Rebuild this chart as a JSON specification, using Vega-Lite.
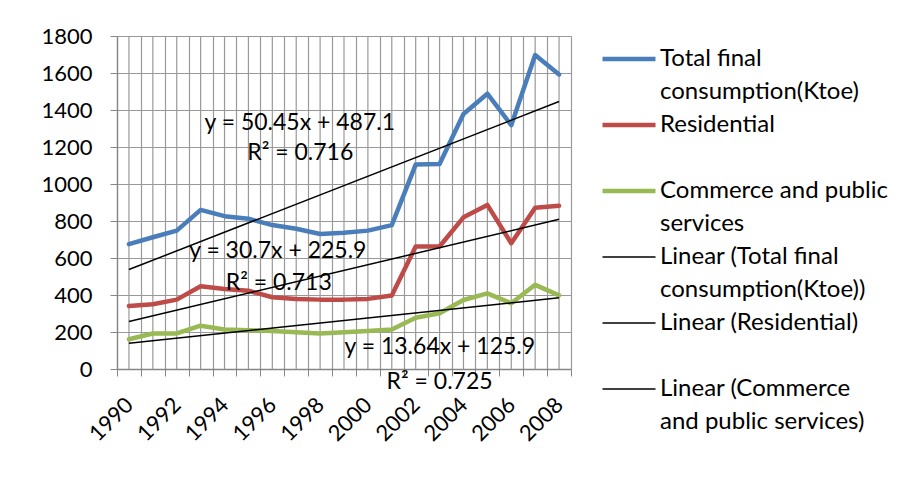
{
  "$schema": "https://vega.github.io/schema/vega-lite/v6.json",
  "width": 454,
  "height": 333,
  "autosize": {"type": "none"},
  "padding": {"left": 117, "top": 36, "right": 337, "bottom": 112},
  "background": "white",
  "config": {
    "font": "Lato",
    "view": {"stroke": null},
    "text": {"font": "Lato"}
  },
  "datasets": {
    "consumption": [
      {"year": 1990, "series": "Total final consumption(Ktoe)", "value": 675},
      {"year": 1991, "series": "Total final consumption(Ktoe)", "value": 712},
      {"year": 1992, "series": "Total final consumption(Ktoe)", "value": 748},
      {"year": 1993, "series": "Total final consumption(Ktoe)", "value": 860},
      {"year": 1994, "series": "Total final consumption(Ktoe)", "value": 826},
      {"year": 1995, "series": "Total final consumption(Ktoe)", "value": 812},
      {"year": 1996, "series": "Total final consumption(Ktoe)", "value": 778},
      {"year": 1997, "series": "Total final consumption(Ktoe)", "value": 758},
      {"year": 1998, "series": "Total final consumption(Ktoe)", "value": 730},
      {"year": 1999, "series": "Total final consumption(Ktoe)", "value": 736},
      {"year": 2000, "series": "Total final consumption(Ktoe)", "value": 748},
      {"year": 2001, "series": "Total final consumption(Ktoe)", "value": 778},
      {"year": 2002, "series": "Total final consumption(Ktoe)", "value": 1105},
      {"year": 2003, "series": "Total final consumption(Ktoe)", "value": 1108},
      {"year": 2004, "series": "Total final consumption(Ktoe)", "value": 1378},
      {"year": 2005, "series": "Total final consumption(Ktoe)", "value": 1488},
      {"year": 2006, "series": "Total final consumption(Ktoe)", "value": 1318},
      {"year": 2007, "series": "Total final consumption(Ktoe)", "value": 1697},
      {"year": 2008, "series": "Total final consumption(Ktoe)", "value": 1592},
      {"year": 1990, "series": "Residential", "value": 340},
      {"year": 1991, "series": "Residential", "value": 350},
      {"year": 1992, "series": "Residential", "value": 375},
      {"year": 1993, "series": "Residential", "value": 447},
      {"year": 1994, "series": "Residential", "value": 432},
      {"year": 1995, "series": "Residential", "value": 423},
      {"year": 1996, "series": "Residential", "value": 388},
      {"year": 1997, "series": "Residential", "value": 379},
      {"year": 1998, "series": "Residential", "value": 375},
      {"year": 1999, "series": "Residential", "value": 375},
      {"year": 2000, "series": "Residential", "value": 379},
      {"year": 2001, "series": "Residential", "value": 397},
      {"year": 2002, "series": "Residential", "value": 662},
      {"year": 2003, "series": "Residential", "value": 662},
      {"year": 2004, "series": "Residential", "value": 820},
      {"year": 2005, "series": "Residential", "value": 887},
      {"year": 2006, "series": "Residential", "value": 680},
      {"year": 2007, "series": "Residential", "value": 872},
      {"year": 2008, "series": "Residential", "value": 882},
      {"year": 1990, "series": "Commerce and public services", "value": 161},
      {"year": 1991, "series": "Commerce and public services", "value": 192},
      {"year": 1992, "series": "Commerce and public services", "value": 192},
      {"year": 1993, "series": "Commerce and public services", "value": 234},
      {"year": 1994, "series": "Commerce and public services", "value": 214},
      {"year": 1995, "series": "Commerce and public services", "value": 210},
      {"year": 1996, "series": "Commerce and public services", "value": 205},
      {"year": 1997, "series": "Commerce and public services", "value": 198},
      {"year": 1998, "series": "Commerce and public services", "value": 192},
      {"year": 1999, "series": "Commerce and public services", "value": 198},
      {"year": 2000, "series": "Commerce and public services", "value": 205},
      {"year": 2001, "series": "Commerce and public services", "value": 214},
      {"year": 2002, "series": "Commerce and public services", "value": 277},
      {"year": 2003, "series": "Commerce and public services", "value": 301},
      {"year": 2004, "series": "Commerce and public services", "value": 373},
      {"year": 2005, "series": "Commerce and public services", "value": 409},
      {"year": 2006, "series": "Commerce and public services", "value": 355},
      {"year": 2007, "series": "Commerce and public services", "value": 455},
      {"year": 2008, "series": "Commerce and public services", "value": 398}
    ],
    "trend": [
      {"year": 1990, "series": "Linear (Total final consumption(Ktoe))", "value": 537.55},
      {"year": 2008, "series": "Linear (Total final consumption(Ktoe))", "value": 1445.65},
      {"year": 1990, "series": "Linear (Residential)", "value": 256.6},
      {"year": 2008, "series": "Linear (Residential)", "value": 809.2},
      {"year": 1990, "series": "Linear (Commerce and public services)", "value": 139.54},
      {"year": 2008, "series": "Linear (Commerce and public services)", "value": 385.06}
    ],
    "equations": [
      {"year": 1997.15, "value": 1330, "text": "y = 50.45x + 487.1"},
      {"year": 1997.17, "value": 1165, "text": "R² = 0.716"},
      {"year": 1996.23, "value": 638, "text": "y = 30.7x + 225.9"},
      {"year": 1996.27, "value": 465, "text": "R² = 0.713"},
      {"year": 2003.01, "value": 119, "text": "y = 13.64x + 125.9"},
      {"year": 2003.0, "value": -70, "text": "R² = 0.725"}
    ]
  },
  "encoding": {
    "x": {
      "field": "year",
      "type": "quantitative",
      "scale": {"domain": [1989.5, 2008.5], "nice": false, "zero": false},
      "axis": {
        "title": null,
        "values": [1989.5, 1990.5, 1991.5, 1992.5, 1993.5, 1994.5, 1995.5, 1996.5, 1997.5, 1998.5, 1999.5, 2000.5, 2001.5, 2002.5, 2003.5, 2004.5, 2005.5, 2006.5, 2007.5, 2008.5],
        "labelExpr": "(datum.value + 0.5) % 2 == 0 ? '' + (datum.value + 0.5) : ''",
        "labelOffset": 12,
        "labelOverlap": false,
        "labelFlush": false,
        "labelBound": false,
        "labelAngle": -45,
        "labelAlign": "right",
        "labelBaseline": "middle",
        "labelPadding": 25,
        "labelFontSize": 22,
        "labelColor": "#000000",
        "grid": true,
        "gridColor": "#999999",
        "gridWidth": 1.2,
        "domainColor": "#868686",
        "domainWidth": 1.3,
        "tickColor": "#868686",
        "tickSize": 7
      }
    },
    "y": {
      "field": "value",
      "type": "quantitative",
      "scale": {"domain": [0, 1800], "nice": false},
      "axis": {
        "title": null,
        "values": [0, 200, 400, 600, 800, 1000, 1200, 1400, 1600, 1800],
        "format": "d",
        "labelOverlap": false,
        "labelPadding": 18,
        "labelFontSize": 22,
        "labelColor": "#000000",
        "grid": true,
        "gridColor": "#999999",
        "gridWidth": 1.2,
        "domainColor": "#868686",
        "domainWidth": 1.3,
        "tickColor": "#868686",
        "tickSize": 7
      }
    }
  },
  "layer": [
    {
      "description": "minor vertical gridlines through each year's category centre",
      "data": {"name": "consumption"},
      "transform": [{"filter": "datum.series == 'Residential'"}],
      "mark": {"type": "rule", "color": "#999999", "strokeWidth": 1.2},
      "encoding": {
        "y": {"datum": 0, "type": "quantitative"},
        "y2": {"datum": 1800}
      }
    },
    {
      "data": {"name": "consumption"},
      "mark": {"type": "line", "strokeWidth": 4.5, "strokeJoin": "round", "strokeCap": "round"},
      "encoding": {
        "color": {
          "field": "series",
          "type": "nominal",
          "scale": {
            "domain": [
              "Total final consumption(Ktoe)",
              "Residential",
              "Commerce and public services",
              "Linear (Total final consumption(Ktoe))",
              "Linear (Residential)",
              "Linear (Commerce and public services)"
            ],
            "range": ["#4a7ebb", "#be4b48", "#98b954", "#000000", "#000000", "#000000"]
          },
          "legend": {
            "title": null,
            "orient": "none",
            "legendX": 500,
            "legendY": 11,
            "padding": 0,
            "rowPadding": 9,
            "symbolType": "stroke",
            "symbolSize": 2809,
            "symbolStrokeWidth": 4.5,
            "labelOffset": 19,
            "labelFont": "Lato",
            "labelFontSize": 24,
            "labelColor": "#000000",
            "labelLimit": 400,
            "labelBaseline": "middle",
            "labelExpr": "datum.label == 'Total final consumption(Ktoe)' ? 'Total final\\nconsumption(Ktoe)' : datum.label == 'Residential' ? 'Residential\\n ' : datum.label == 'Commerce and public services' ? 'Commerce and public\\nservices' : datum.label == 'Linear (Total final consumption(Ktoe))' ? 'Linear (Total final\\nconsumption(Ktoe))' : datum.label == 'Linear (Residential)' ? 'Linear (Residential)\\n ' : 'Linear (Commerce\\nand public services)'",
            "encode": {
              "symbols": {"update": {"strokeWidth": {"signal": "datum.index >= 3 ? 1.5 : 4.5"}}},
              "labels": {"update": {"lineHeight": {"value": 33}, "lineBreak": {"value": "\n"}}}
            }
          }
        }
      }
    },
    {
      "data": {"name": "trend"},
      "mark": {"type": "line", "strokeWidth": 1.5},
      "encoding": {
        "color": {"field": "series", "type": "nominal"}
      }
    },
    {
      "data": {"name": "equations"},
      "mark": {"type": "text", "fontSize": 23, "font": "Lato", "color": "#000000", "align": "center", "baseline": "middle"},
      "encoding": {
        "text": {"field": "text", "type": "nominal"}
      }
    }
  ]
}
